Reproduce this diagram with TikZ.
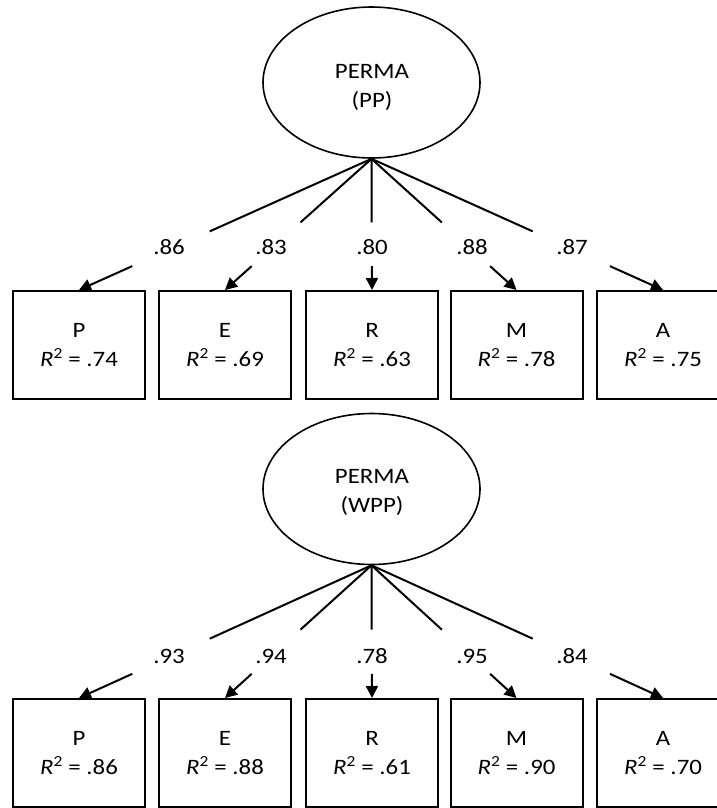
\documentclass[tikz,border=0pt]{standalone}
\usepackage{fontspec}
\setmainfont[FakeStretch=1.13]{Carlito}
\usetikzlibrary{arrows.meta,calc,shapes.geometric}
\begin{document}
\begin{tikzpicture}[x=1pt,y=-1pt,
  latent/.style={ellipse,draw,line width=1.6pt,minimum width=217pt,minimum height=151pt,inner sep=0pt},
  ltext/.style={align=center,font=\fontsize{22}{29}\selectfont,inner sep=0pt},
  obs/.style={rectangle,draw,line width=2pt,minimum width=132pt,minimum height=108pt,inner sep=0pt,align=center,font=\fontsize{22}{29}\selectfont},
  lab/.style={font=\fontsize{22}{26}\selectfont,inner sep=0pt},
  ln/.style={line width=2pt},
  arr/.style={line width=2pt,-{Triangle[length=12pt,width=12pt]}}]
\clip (0,0) rectangle (717,808);
\fill[white] (0,0) rectangle (717,808);

% ---------- upper model ----------
\node[latent] (e1) at (371.5,82.5) {};
\node[ltext] (t1) at (372,87) {PERMA\\(PP)};
\node[obs] (p1) at (79,345) {P\\\textit{R}\textsuperscript{2} = .74};
\node[obs] (q1) at (225,345) {E\\\textit{R}\textsuperscript{2} = .69};
\node[obs] (r1) at (372,345) {R\\\textit{R}\textsuperscript{2} = .63};
\node[obs] (m1) at (516.5,345) {M\\\textit{R}\textsuperscript{2} = .78};
\node[obs] (a1) at (663,345) {A\\\textit{R}\textsuperscript{2} = .75};

\draw[ln] (e1.south) -- ($(e1.south)!0.553!(p1.north)$);
\draw[arr] ($(e1.south)!0.818!(p1.north)$) -- (p1.north);
\draw[ln] (e1.south) -- ($(e1.south)!0.485!(q1.north)$);
\draw[arr] ($(e1.south)!0.818!(q1.north)$) -- (q1.north);
\draw[ln] (e1.south) -- ($(e1.south)!0.485!(r1.north)$);
\draw[arr] ($(e1.south)!0.818!(r1.north)$) -- (r1.north);
\draw[ln] (e1.south) -- ($(e1.south)!0.485!(m1.north)$);
\draw[arr] ($(e1.south)!0.818!(m1.north)$) -- (m1.north);
\draw[ln] (e1.south) -- ($(e1.south)!0.553!(a1.north)$);
\draw[arr] ($(e1.south)!0.818!(a1.north)$) -- (a1.north);

\node[lab] (l1p) at (169,247) {.86};
\node[lab] (l1e) at (271,247) {.83};
\node[lab] (l1r) at (372,247) {.80};
\node[lab] (l1m) at (472,247) {.88};
\node[lab] (l1a) at (572,247) {.87};

% ---------- lower model ----------
\node[latent] (e2) at (371.5,489) {};
\node[ltext] (t2) at (372,492) {PERMA\\(WPP)};
\node[obs] (p2) at (79,753) {P\\\textit{R}\textsuperscript{2} = .86};
\node[obs] (q2) at (225,753) {E\\\textit{R}\textsuperscript{2} = .88};
\node[obs] (r2) at (372,753) {R\\\textit{R}\textsuperscript{2} = .61};
\node[obs] (m2) at (516.5,753) {M\\\textit{R}\textsuperscript{2} = .90};
\node[obs] (a2) at (663,753) {A\\\textit{R}\textsuperscript{2} = .70};

\draw[ln] (e2.south) -- ($(e2.south)!0.553!(p2.north)$);
\draw[arr] ($(e2.south)!0.818!(p2.north)$) -- (p2.north);
\draw[ln] (e2.south) -- ($(e2.south)!0.485!(q2.north)$);
\draw[arr] ($(e2.south)!0.818!(q2.north)$) -- (q2.north);
\draw[ln] (e2.south) -- ($(e2.south)!0.485!(r2.north)$);
\draw[arr] ($(e2.south)!0.818!(r2.north)$) -- (r2.north);
\draw[ln] (e2.south) -- ($(e2.south)!0.485!(m2.north)$);
\draw[arr] ($(e2.south)!0.818!(m2.north)$) -- (m2.north);
\draw[ln] (e2.south) -- ($(e2.south)!0.553!(a2.north)$);
\draw[arr] ($(e2.south)!0.818!(a2.north)$) -- (a2.north);

\node[lab] (l2p) at (169,656) {.93};
\node[lab] (l2e) at (271,656) {.94};
\node[lab] (l2r) at (372,656) {.78};
\node[lab] (l2m) at (472,656) {.95};
\node[lab] (l2a) at (572,656) {.84};
\end{tikzpicture}
\end{document}
